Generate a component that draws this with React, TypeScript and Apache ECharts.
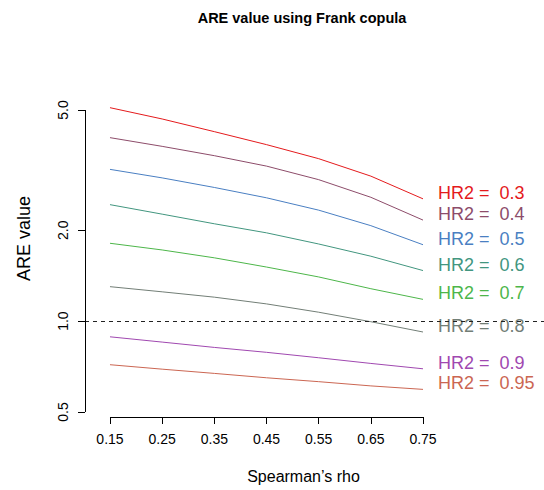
import React, { useEffect, useRef } from "react";
import * as echarts from "echarts";

const rho = [0.15, 0.25, 0.35, 0.45, 0.55, 0.65, 0.75];
const xTicks = [0.15, 0.25, 0.35, 0.45, 0.55, 0.65, 0.75];
const yTicks = [0.5, 1.0, 2.0, 5.0];

const hrLabels = ["0.3", "0.4", "0.5", "0.6", "0.7", "0.8", "0.9", "0.95"];
const hr03 = [5.09, 4.67, 4.24, 3.84, 3.45, 3.02, 2.54];
const hr04 = [4.05, 3.79, 3.53, 3.26, 2.94, 2.57, 2.16];
const hr05 = [3.18, 2.98, 2.77, 2.56, 2.33, 2.07, 1.79];
const hr06 = [2.43, 2.26, 2.1, 1.96, 1.8, 1.64, 1.47];
const hr07 = [1.81, 1.72, 1.62, 1.51, 1.4, 1.28, 1.18];
const hr08 = [1.3, 1.25, 1.2, 1.14, 1.07, 0.995, 0.92];
const hr09 = [0.887, 0.852, 0.818, 0.788, 0.756, 0.724, 0.695];
const hr095 = [0.717, 0.693, 0.671, 0.649, 0.63, 0.61, 0.594];
const seriesValues = [hr03, hr04, hr05, hr06, hr07, hr08, hr09, hr095];
const colors = ["#E41A1C", "#8D4C6A", "#4A7FC2", "#42967F", "#4DB64A", "#727E76", "#A048B0", "#CB6652"];

const FONT = "'Liberation Sans', Arial, Helvetica, sans-serif";
const X_MIN = 0.1021;
const X_MAX = 0.9819;
const Y_MIN = 0.4812;
const Y_MAX = 5.397;

export default function App() {
  const ref = useRef<HTMLDivElement>(null);
  useEffect(() => {
    if (!ref.current) return;
    const chart = echarts.init(ref.current, undefined, { renderer: "svg" });
    const series: any[] = seriesValues.map((vals, i) => ({
      type: "line",
      name: "HR2 = " + hrLabels[i],
      data: vals.map((v, j) => [rho[j], v]),
      showSymbol: false,
      symbol: "none",
      lineStyle: { color: colors[i], width: 1 },
      itemStyle: { color: colors[i] },
      endLabel: {
        show: true,
        formatter: "HR2 =  " + hrLabels[i],
        color: colors[i],
        fontSize: 18,
        fontFamily: FONT,
        distance: 15,
        offset: [0, -6],
      },
      silent: true,
      z: 3,
    }));
    series.push({
      type: "line",
      data: [],
      silent: true,
      markLine: {
        silent: true,
        symbol: "none",
        label: { show: false },
        animation: false,
        data: [
          { yAxis: 1, lineStyle: { color: "#222", type: [4, 4], width: 1 } },
          [
            { coord: [xTicks[0], Y_MIN], lineStyle: { color: "#000", type: "solid", width: 1 } },
            { coord: [xTicks[xTicks.length - 1], Y_MIN] },
          ],
          [
            { coord: [X_MIN, yTicks[0]], lineStyle: { color: "#000", type: "solid", width: 1 } },
            { coord: [X_MIN, yTicks[yTicks.length - 1]] },
          ],
        ],
      },
    });
    chart.setOption({
      animation: false,
      backgroundColor: "#fff",
      title: {
        text: "ARE value using Frank copula",
        left: 297,
        top: 5,
        textAlign: "center",
        textStyle: { fontSize: 14.5, fontWeight: "bold", fontFamily: FONT, color: "#000" },
      },
      grid: { left: 85, right: 0, top: 100, bottom: 73, containLabel: false },
      xAxis: {
        type: "value",
        min: X_MIN,
        max: X_MAX,
        name: "Spearman\u2019s rho",
        nameLocation: "middle",
        nameGap: 51,
        nameTextStyle: { fontSize: 16, fontFamily: FONT, color: "#000", padding: [0, 22, 0, 0] },
        axisLine: { show: false },
        splitLine: { show: false },
        axisTick: {
          show: true,
          customValues: xTicks,
          length: 7,
          lineStyle: { color: "#000" },
        },
        axisLabel: {
          customValues: xTicks,
          margin: 15,
          fontSize: 14,
          fontFamily: FONT,
          color: "#000",
          formatter: (v: number) => v.toFixed(2),
        },
      },
      yAxis: {
        type: "log",
        logBase: 10,
        min: Y_MIN,
        max: Y_MAX,
        name: "ARE value",
        nameLocation: "middle",
        nameRotate: 90,
        nameGap: 52,
        nameTextStyle: { fontSize: 18, fontFamily: FONT, color: "#000", padding: [0, 0, 0, 40] },
        axisLine: { show: false },
        splitLine: { show: false },
        axisTick: {
          show: true,
          customValues: yTicks,
          length: 7,
          lineStyle: { color: "#000" },
        },
        axisLabel: {
          customValues: yTicks,
          rotate: 90,
          margin: 15,
          fontSize: 14,
          fontFamily: FONT,
          color: "#000",
          formatter: (v: number) => v.toFixed(1),
        },
      },
      series,
    });
    return () => chart.dispose();
  }, []);
  return (
    <div
      ref={ref}
      style={{ position: "fixed", left: 0, top: 0, width: 544, height: 490 }}
    />
  );
}
